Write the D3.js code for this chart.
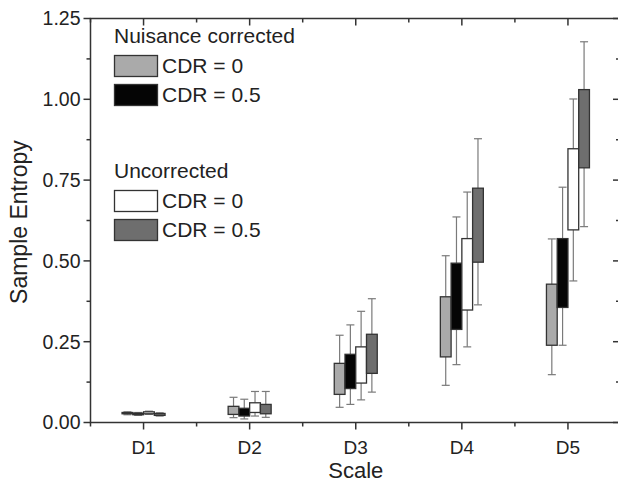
<!DOCTYPE html>
<html>
<head>
<meta charset="utf-8">
<script src="https://cdn.jsdelivr.net/npm/d3@7"></script>
<style>
  body { margin: 0; background: #fff; }
  text { font-family: "Liberation Sans", Arial, sans-serif; fill: #222; }
</style>
</head>
<body>
<svg id="chart"></svg>
<script>
// categories and series
const scales = ['D1', 'D2', 'D3', 'D4', 'D5']
const seriesNames = ['corr0', 'corr05', 'unc0', 'unc05']
const seriesColors = ['#aaaaaa', '#050505', '#ffffff', '#6e6e6e']
const legendGroups = ['Nuisance corrected', 'Uncorrected']
const legendLabels = ['CDR = 0', 'CDR = 0.5', 'CDR = 0', 'CDR = 0.5']

// box values per scale: [whisker low, q1, q3, whisker high]
const corr0  = [[0.024, 0.027, 0.031, 0.033], [0.015, 0.025, 0.050, 0.078], [0.047, 0.087, 0.183, 0.270], [0.115, 0.203, 0.389, 0.516], [0.148, 0.239, 0.428, 0.568]]
const corr05 = [[0.022, 0.024, 0.029, 0.031], [0.011, 0.020, 0.044, 0.072], [0.056, 0.105, 0.211, 0.302], [0.179, 0.288, 0.493, 0.636], [0.239, 0.356, 0.569, 0.728]]
const unc0   = [[0.025, 0.027, 0.033, 0.035], [0.020, 0.031, 0.061, 0.096], [0.070, 0.122, 0.234, 0.344], [0.234, 0.348, 0.569, 0.713], [0.438, 0.596, 0.847, 1.001]]
const unc05  = [[0.020, 0.022, 0.028, 0.030], [0.016, 0.027, 0.056, 0.096], [0.094, 0.152, 0.273, 0.383], [0.364, 0.496, 0.725, 0.878], [0.606, 0.788, 1.030, 1.178]]
const allSeries = [corr0, corr05, unc0, unc05]

const yTicks = [0, 0.25, 0.5, 0.75, 1.0, 1.25]

const width = 618
const height = 482
const margin = { top: 18.5, right: -3, bottom: 59.5, left: 90.5 }

const svg = d3.select('#chart')
    .attr('width', width)
    .attr('height', height)

const x = d3.scaleLinear()
    .domain([0.5, 5.5])
    .range([margin.left, width - margin.right])

const y = d3.scaleLinear()
    .domain([0, 1.25])
    .range([height - margin.bottom, margin.top])

const offset = d3.scaleBand()
    .domain(seriesNames)
    .range([-21.5, 21.5])

const axisColor = '#333'

// frame
svg.append('rect')
    .attr('x', x(0.5))
    .attr('y', y(1.25))
    .attr('width', x(5.5) - x(0.5))
    .attr('height', y(0) - y(1.25))
    .attr('fill', 'none')
    .attr('stroke', axisColor)
    .attr('stroke-width', 1.5)

// bottom and top ticks
const xMajor = d3.range(1, 6)
const xMinor = d3.range(0.5, 6, 1)

const bottom = svg.append('g')
xMajor.forEach(v => {
    bottom.append('line').attr('x1', x(v)).attr('x2', x(v)).attr('y1', y(0)).attr('y2', y(0) + 7)
    bottom.append('line').attr('x1', x(v)).attr('x2', x(v)).attr('y1', y(1.25)).attr('y2', y(1.25) + 7)
})
xMinor.forEach(v => {
    bottom.append('line').attr('x1', x(v)).attr('x2', x(v)).attr('y1', y(0)).attr('y2', y(0) + 4)
    bottom.append('line').attr('x1', x(v)).attr('x2', x(v)).attr('y1', y(1.25)).attr('y2', y(1.25) + 4)
})
bottom.selectAll('line').attr('stroke', axisColor).attr('stroke-width', 1.5)

bottom.selectAll('text.xl')
    .data(scales)
    .join('text')
    .attr('class', 'xl')
    .attr('x', (d, i) => x(i + 1))
    .attr('y', y(0) + 31)
    .attr('text-anchor', 'middle')
    .attr('font-size', 19)
    .text(d => d)

// left and right ticks
const left = svg.append('g')
const yMinor = d3.range(0.125, 1.25, 0.25)
yTicks.forEach(v => {
    left.append('line').attr('x1', x(0.5) - 7).attr('x2', x(0.5)).attr('y1', y(v)).attr('y2', y(v))
    left.append('line').attr('x1', x(5.5) - 8).attr('x2', x(5.5)).attr('y1', y(v)).attr('y2', y(v))
})
yMinor.forEach(v => {
    left.append('line').attr('x1', x(0.5) - 4).attr('x2', x(0.5)).attr('y1', y(v)).attr('y2', y(v))
    left.append('line').attr('x1', x(5.5) - 5).attr('x2', x(5.5)).attr('y1', y(v)).attr('y2', y(v))
})
left.selectAll('line').attr('stroke', axisColor).attr('stroke-width', 1.5)

left.selectAll('text.yl')
    .data(yTicks)
    .join('text')
    .attr('class', 'yl')
    .attr('x', x(0.5) - 10)
    .attr('y', d => y(d))
    .attr('dy', '0.35em')
    .attr('text-anchor', 'end')
    .attr('font-size', 19.5)
    .text(d => d3.format('.2f')(d))

// axis titles
svg.append('text')
    .attr('x', x(3))
    .attr('y', height - 4)
    .attr('text-anchor', 'middle')
    .attr('font-size', 22)
    .text('Scale')

svg.append('text')
    .attr('transform', `translate(27,${y(0.62)}) rotate(-90)`)
    .attr('text-anchor', 'middle')
    .attr('font-size', 23)
    .text('Sample Entropy')

// boxes
const boxW = offset.bandwidth()
const capW = 8
allSeries.forEach((series, si) => {
    const g = svg.append('g')
    series.forEach((d, i) => {
        const cx = x(i + 1) + offset(seriesNames[si]) + boxW / 2
        const [lo, q1, q3, hi] = d
        g.append('line')
            .attr('x1', cx).attr('x2', cx).attr('y1', y(hi)).attr('y2', y(q3))
        g.append('line')
            .attr('x1', cx).attr('x2', cx).attr('y1', y(q1)).attr('y2', y(lo))
        g.append('line')
            .attr('x1', cx - capW / 2).attr('x2', cx + capW / 2).attr('y1', y(hi)).attr('y2', y(hi))
        g.append('line')
            .attr('x1', cx - capW / 2).attr('x2', cx + capW / 2).attr('y1', y(lo)).attr('y2', y(lo))
        g.append('rect')
            .attr('x', cx - boxW / 2)
            .attr('y', y(q3))
            .attr('width', boxW)
            .attr('height', y(q1) - y(q3))
            .attr('fill', seriesColors[si])
            .attr('stroke', '#333')
            .attr('stroke-width', 1.3)
    })
    g.selectAll('line').attr('stroke', '#7a7a7a').attr('stroke-width', 1.2)
})

// legend
const legend = svg.append('g')
const legendTop = [43, 178]
legendGroups.forEach((name, gi) => {
    legend.append('text')
        .attr('x', 114)
        .attr('y', legendTop[gi])
        .attr('font-size', 21)
        .text(name)
    for (let k = 0; k < 2; k++) {
        const si = gi * 2 + k
        const top = legendTop[gi] + 12 + k * 29
        legend.append('rect')
            .attr('x', 114.5)
            .attr('y', top + 0.5)
            .attr('width', 43)
            .attr('height', 21)
            .attr('fill', seriesColors[si])
            .attr('stroke', '#333')
            .attr('stroke-width', 1.3)
        legend.append('text')
            .attr('x', 162)
            .attr('y', top + 18)
            .attr('font-size', 21)
            .text(legendLabels[si])
    }
})
</script>
</body>
</html>
